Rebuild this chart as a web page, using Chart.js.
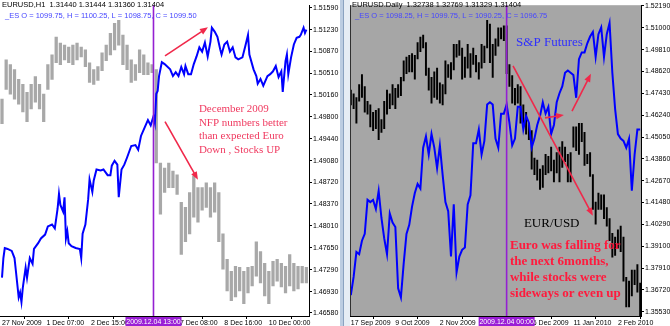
<!DOCTYPE html>
<html>
<head>
<meta charset="utf-8">
<script src="https://cdn.jsdelivr.net/npm/chart.js@4.4.1/dist/chart.umd.min.js"></script>
<style>
  html, body { margin: 0; padding: 0; background: #fff; }
  #wrap { position: relative; width: 670px; height: 326px; overflow: hidden; }
  #left { position: absolute; left: 0; top: 0; }
  #right { position: absolute; left: 350px; top: 0; }
  #sep { position: absolute; left: 340px; top: 0; width: 10px; height: 326px;
         background: linear-gradient(to right, #bccde2 0, #bccde2 3px, #8aa2c0 3px, #8aa2c0 4px, #e6edf5 4px); }
</style>
</head>
<body>
<div id="wrap">
  <canvas id="left" width="340" height="326"></canvas>
  <div id="sep"></div>
  <canvas id="right" width="320" height="326"></canvas>
</div>
<script>
// ---- left: EURUSD H1 (every 3rd bar) + ES overlay ----
const h1Bar = [0,3,6,9,12,15,18,21,24,27,30,33,36,39,42,45,48,51,54,57,60,63,66,69,72,75,78,81,84,87,
  90,93,96,99,102,105,108,111,114,117,120,123,126,129,132,135,138,141,144,147,150,153,156,159,162,165,
  168,171,174,177,180,183,186,189,192,195,198,201,204,207,210,213,216,219]
const h1High = [1.50089,1.50734,1.50654,1.50573,1.50412,1.50331,1.50202,1.50331,1.50460,1.50331,
  1.50170,1.50654,1.50815,1.51106,1.51009,1.50976,1.50944,1.50976,1.51009,1.50944,
  1.50896,1.50686,1.50573,1.50621,1.50847,1.50976,1.51170,1.51331,1.51380,1.51138,
  1.50976,1.50734,1.50654,1.50896,1.50815,1.50686,1.50654,1.50573,1.49040,1.48959,
  1.49040,1.48907,1.48846,1.48394,1.48313,1.48556,1.48830,1.48636,1.48636,1.48717,
  1.48636,1.48717,1.48556,1.47878,1.47458,1.47264,1.47345,1.47329,1.47264,1.47329,
  1.47345,1.47749,1.47587,1.47393,1.47264,1.47426,1.47458,1.47393,1.47345,1.47539,
  1.47393,1.47345,1.47345,1.47329]
const h1Low = [1.49685,1.50250,1.50170,1.50089,1.50008,1.49879,1.49717,1.49927,1.50040,1.49927,
  1.49717,1.50250,1.50412,1.50686,1.50654,1.50734,1.50686,1.50654,1.50734,1.50783,
  1.50621,1.50363,1.50331,1.50395,1.50557,1.50718,1.50815,1.50896,1.50976,1.50654,
  1.50573,1.50363,1.50395,1.50524,1.50492,1.50492,1.50524,1.49040,1.48200,1.48556,
  1.48636,1.48636,1.48523,1.47539,1.47749,1.47878,1.48152,1.48071,1.48265,1.48313,
  1.48152,1.48233,1.47749,1.47297,1.46942,1.46780,1.46845,1.46942,1.46732,1.46909,
  1.47023,1.47184,1.47071,1.46861,1.46732,1.47023,1.47103,1.47006,1.46909,1.47023,
  1.46942,1.46974,1.47071,1.47071]

const esH1Idx = [0,1,2,4,7,9,10,12,13,14,15,17,18,20,22,23,26,28,31,33,36,38,40,41,42,44,45,46,47,48,
  50,53,56,57,58,60,62,63,65,66,68,71,73,76,78,79,81,83,84,86,88,90,93,96,98,100,103,105,107,109,
  110,111,112,113,115,117,121,123,125,127,129,131,132,134,136,138,140,142,144,146,148,150,151,153,155,157,158,160,162,164,
  166,168,170,173,175,177,178,181,183,184,186,188,191,193,195,197,199,201,202,204,205,206,208,210,212,214,215,217,218,219]
const esH1 = [1047.6,1051.7,1053.8,1053.6,1053.2,1051.7,1049.0,1043.5,1044.5,1042.5,
  1045.6,1049.7,1047.6,1051.7,1050.5,1053.6,1054.8,1055.8,1056.6,1058.3,
  1058.7,1057.9,1062.0,1065.1,1062.8,1061.4,1064.4,1055.8,1057.3,1054.8,
  1054.2,1053.8,1053.6,1051.7,1056.8,1058.7,1064.0,1068.1,1065.5,1067.9,
  1070.2,1070.0,1070.2,1069.0,1069.0,1071.0,1072.0,1071.2,1064.4,1070.2,
  1071.2,1072.7,1075.1,1075.3,1074.3,1077.2,1079.2,1080.5,1079.4,1081.3,
  1079.9,1086.0,1086.6,1089.7,1092.6,1092.2,1091.1,1089.7,1090.5,1089.7,
  1091.6,1090.1,1091.8,1090.1,1090.1,1092.2,1093.8,1095.7,1094.8,1096.7,
  1093.8,1096.9,1099.8,1099.0,1097.9,1095.3,1094.2,1096.3,1096.9,1094.8,
  1095.7,1093.6,1093.2,1093.6,1095.9,1098.3,1094.2,1091.1,1089.7,1088.1,
  1089.1,1087.7,1089.7,1090.1,1090.7,1091.8,1089.5,1090.7,1086.4,1092.8,
  1094.2,1090.1,1093.6,1096.3,1097.7,1097.9,1098.3,1099.8,1098.7,1099.4]

const h1PriceTicks = [1.51590,1.51230,1.50870,1.50510,1.50160,1.49800,1.49440,1.49080,1.48720,1.48370,1.48010,1.47650,1.47290,1.46930,1.46580]
const h1TimeIdx = [0,32,64,96,128,160,192]
const h1TimeLabels = ['27 Nov 2009','1 Dec 07:00','2 Dec 15:00','3 Dec 23:00','7 Dec 08:00','8 Dec 16:00','10 Dec 00:00']

// ---- right: EURUSD Daily + ES overlay ----
const d1Low = [1.4680,1.4660,1.4580,1.4700,1.4720,1.4640,1.4630,1.4560,1.4540,1.4550,
  1.4490,1.4530,1.4550,1.4630,1.4660,1.4680,1.4660,1.4720,1.4730,1.4810,
  1.4850,1.4860,1.4860,1.4820,1.4930,1.4970,1.4990,1.4840,1.4760,1.4690,
  1.4720,1.4710,1.4690,1.4680,1.4740,1.4830,1.4820,1.4870,1.4940,1.4950,
  1.4820,1.4830,1.4880,1.4830,1.4900,1.4860,1.4820,1.4880,1.4910,1.4990,
  1.4910,1.4830,1.4950,1.5000,1.5040,1.5030,1.4850,1.4780,1.4690,1.4680,
  1.4690,1.4580,1.4570,1.4520,1.4490,1.4330,1.4300,1.4270,1.4220,1.4230,
  1.4300,1.4310,1.4320,1.4260,1.4310,1.4260,1.4340,1.4370,1.4260,1.4260,
  1.4450,1.4430,1.4410,1.4480,1.4350,1.4360,1.4290,1.4110,1.4030,1.4110,
  1.4110,1.4060,1.4020,1.3940,1.3850,1.3860,1.3900,1.3880,1.3720,1.3580,
  1.3580,1.3640,1.3700,1.3660,1.3530]
const d1High = [1.4760,1.4740,1.4720,1.4790,1.4845,1.4780,1.4700,1.4680,1.4640,1.4650,
  1.4660,1.4600,1.4700,1.4760,1.4740,1.4790,1.4770,1.4790,1.4830,1.4920,
  1.4940,1.4950,1.4960,1.4950,1.5020,1.5050,1.5060,1.5020,1.4880,1.4830,
  1.4860,1.4880,1.4800,1.4790,1.4920,1.4900,1.4910,1.5010,1.5010,1.5030,
  1.4990,1.4940,1.5010,1.4960,1.4990,1.4950,1.4910,1.5010,1.5000,1.5140,
  1.5120,1.5010,1.5040,1.5100,1.5100,1.5110,1.5110,1.4900,1.4840,1.4770,
  1.4790,1.4780,1.4680,1.4640,1.4580,1.4540,1.4390,1.4380,1.4330,1.4350,
  1.4410,1.4400,1.4450,1.4380,1.4420,1.4450,1.4480,1.4450,1.4410,1.4420,
  1.4560,1.4560,1.4580,1.4580,1.4530,1.4410,1.4420,1.4300,1.4150,1.4200,
  1.4190,1.4190,1.4120,1.4060,1.3980,1.3960,1.4000,1.4020,1.3960,1.3740,
  1.3720,1.3780,1.3780,1.3810,1.3710]
const esD1 = [1024,1032,1043,1042,1048,1051,1066,1065,1066,1062,
  1070,1058,1049,1042,1060,1056,1054,1027,1023,1038,
  1051,1055,1063,1069,1073,1071,1089,1094,1086,1095,
  1089,1080,1090,1077,1065,1061,1041,1064,1034,1041,
  1044,1045,1064,1068,1091,1091,1097,1086,1092,1108,
  1109,1108,1093,1089,1104,1104,1108,1100,1090,1093,
  1107,1107,1097,1103,1100,1089,1093,1099,1103,1109,
  1104,1107,1095,1099,1109,1113,1116,1122,1123,1122,
  1121,1111,1128,1131,1131,1135,1138,1140,1129,1139,
  1142,1129,1139,1144,1122,1106,1095,1093,1092,1089,
  1093,1070,1086,1097,1097]

const d1PriceTicks = [1.52190,1.51000,1.49810,1.48620,1.47430,1.46240,1.45050,1.43860,1.42670,1.41480,1.40290,1.39100,1.37910,1.36720,1.35530]
const d1TimeIdx = [0,16,32,48,64,80,96]
const d1TimeLabels = ['17 Sep 2009','9 Oct 2009','2 Nov 2009','24 Nov 2009','16 Dec 2009','11 Jan 2010','2 Feb 2010']


Chart.defaults.font.family = '"Liberation Sans", Arial, sans-serif'
Chart.defaults.font.size = 7
Chart.defaults.color = '#000'

const decor = {
  id: 'decor',
  beforeDraw(chart, args, o) {
    const { ctx, chartArea: a } = chart
    if (o.plotBg) {
      ctx.save()
      ctx.fillStyle = o.plotBg
      ctx.fillRect(a.left, a.top, a.right - a.left, a.bottom - a.top)
      ctx.restore()
    }
  },
  afterDatasetsDraw(chart, args, o) {
    const { ctx, chartArea: a, scales } = chart
    const px = v => scales.x.getPixelForValue(v)
    const py = v => scales.y.getPixelForValue(v)
    ctx.save()
    if (o.leftBorder) {
      ctx.strokeStyle = '#303030'; ctx.lineWidth = 1
      ctx.beginPath(); ctx.moveTo(a.left + 0.5, a.top); ctx.lineTo(a.left + 0.5, a.bottom); ctx.stroke()
    }
    const mx = px(o.markIdx)
    ctx.strokeStyle = '#9420d2'; ctx.lineWidth = 1.6
    ctx.beginPath(); ctx.moveTo(mx, a.top); ctx.lineTo(mx, a.bottom); ctx.stroke()

    ctx.strokeStyle = '#f0284a'; ctx.fillStyle = '#f0284a'; ctx.lineWidth = 1.6
    o.arrows.forEach(ar => {
      const x1 = px(ar.from[0]), y1 = py(ar.from[1]), x2 = px(ar.to[0]), y2 = py(ar.to[1])
      const ang = Math.atan2(y2 - y1, x2 - x1)
      ctx.beginPath(); ctx.moveTo(x1, y1); ctx.lineTo(x2 - 5 * Math.cos(ang), y2 - 5 * Math.sin(ang)); ctx.stroke()
      ctx.beginPath()
      ctx.moveTo(x2, y2)
      ctx.lineTo(x2 - 8 * Math.cos(ang) + 3.2 * Math.sin(ang), y2 - 8 * Math.sin(ang) - 3.2 * Math.cos(ang))
      ctx.lineTo(x2 - 8 * Math.cos(ang) - 3.2 * Math.sin(ang), y2 - 8 * Math.sin(ang) + 3.2 * Math.cos(ang))
      ctx.closePath(); ctx.fill()
    })

    ctx.textBaseline = 'middle'; ctx.textAlign = 'left'
    o.notes.forEach(n => {
      ctx.font = n.font; ctx.fillStyle = n.color
      const x = px(n.at[0]), y = py(n.at[1])
      n.lines.forEach((t, i) => ctx.fillText(t, x, y + i * n.gap))
    })
    ctx.restore()
  },
  afterDraw(chart, args, o) {
    const { ctx, chartArea: a, scales } = chart
    ctx.save()
    ctx.textBaseline = 'middle'; ctx.textAlign = 'left'
    ctx.font = '7.5px "Liberation Sans"'
    ctx.fillStyle = '#000'
    ctx.fillText(o.title, 2, 5)
    ctx.fillStyle = '#4646ff'
    ctx.fillText(o.esTitle, 5, 16)

    const mx = scales.x.getPixelForValue(o.markIdx)
    ctx.fillStyle = '#9a1ed6'
    ctx.fillRect(mx - 28, a.bottom + 1, 56, 10)
    ctx.fillStyle = '#fff'
    ctx.textAlign = 'center'
    ctx.font = '7px "Liberation Sans"'
    ctx.fillText(o.markLabel, mx, a.bottom + 6.5)
    ctx.restore()
  }
}

const buildConfig = (p) => ({
  type: 'bar',
  data: {
    datasets: [
      {
        type: 'line',
        data: p.esIdx.map((v, i) => ({ x: v, y: p.es[i] })),
        borderColor: '#0000ff',
        borderWidth: 2,
        pointRadius: 0,
        tension: 0,
        yAxisID: 'es',
        order: 1
      },
      {
        type: 'bar',
        data: p.barIdx.map((v, i) => ({ x: v, y: [p.low[i], p.high[i]] })),
        backgroundColor: p.barColor,
        barThickness: p.barWidth,
        grouped: false,
        yAxisID: 'y',
        order: 2
      }
    ]
  },
  options: {
    responsive: false,
    animation: false,
    layout: { padding: 0 },
    plugins: {
      legend: { display: false },
      tooltip: { enabled: false },
      decor: p.decor
    },
    scales: {
      x: {
        type: 'linear',
        min: p.xMin,
        max: p.xMax,
        offset: false,
        grid: { drawOnChartArea: false, tickLength: 3, color: '#000' },
        border: { color: '#000' },
        ticks: {
          align: 'start',
          padding: 0,
          maxRotation: 0,
          autoSkip: false,
          callback: (v) => p.timeLabels[p.timeIdx.indexOf(v)]
        },
        afterBuildTicks: (s) => { s.ticks = p.timeIdx.map(v => ({ value: v })) },
        afterFit: (s) => { s.height = 10 }
      },
      y: {
        position: 'right',
        min: p.yMin,
        max: p.yMax,
        grid: { drawOnChartArea: false, tickLength: 3, color: '#000' },
        border: { color: '#000' },
        ticks: { padding: 1, autoSkip: false, callback: (v) => v.toFixed(5) },
        afterBuildTicks: (s) => { s.ticks = p.priceTicks.map(v => ({ value: v })) },
        afterFit: (s) => { s.width = p.axisWidth }
      },
      es: { display: false, min: p.esMin, max: p.esMax }
    }
  },
  plugins: [decor]
})

new Chart(document.getElementById('left'), buildConfig({
  barIdx: h1Bar, high: h1High, low: h1Low, barColor: '#a8a8a8', barWidth: 2.6,
  esIdx: esH1Idx, es: esH1,
  xMin: -1.44, xMax: 220.9, yMin: 1.4653, yMax: 1.5163, esMin: 1039.6, esMax: 1104.5,
  priceTicks: h1PriceTicks, timeIdx: h1TimeIdx, timeLabels: h1TimeLabels, axisWidth: 31,
  decor: {
    title: 'EURUSD,H1  1.31440 1.31444 1.31360 1.31404',
    esTitle: '_ES O = 1099.75, H = 1100.25, L = 1098.75, C = 1099.50',
    markIdx: 109, markLabel: '2009.12.04 13:00',
    arrows: [
      { from: [117.3, 1.50799], to: [148.2, 1.51267] },
      { from: [117.3, 1.49718], to: [141, 1.48766] }
    ],
    notes: [
      { at: [141.7, 1.49919], gap: 13.4, font: '11px "Liberation Serif"', color: '#f03a60',
        lines: ['December 2009', 'NFP numbers better', 'than expected Euro', 'Down , Stocks UP'] }
    ]
  }
}))

new Chart(document.getElementById('right'), buildConfig({
  barIdx: d1Low.map((v, i) => i), high: d1High, low: d1Low, barColor: '#000', barWidth: 1.3,
  esIdx: esD1.map((v, i) => i), es: esD1,
  xMin: -0.3, xMax: 104.3, yMin: 1.3530, yMax: 1.5223, esMin: 1014.8, esMax: 1151.8,
  priceTicks: d1PriceTicks, timeIdx: d1TimeIdx, timeLabels: d1TimeLabels, axisWidth: 29,
  decor: {
    plotBg: '#a6a6a6', leftBorder: true,
    title: 'EURUSD.Daily  1.32738 1.32769 1.31329 1.31404',
    esTitle: '_ES O = 1098.25, H = 1099.75, L = 1090.25, C = 1096.75',
    markIdx: 56, markLabel: '2009.12.04 00:00',
    arrows: [
      { from: [58.3, 1.48919], to: [87.0, 1.40755] },
      { from: [69.8, 1.46091], to: [76.6, 1.46251] },
      { from: [79.5, 1.46464], to: [86.3, 1.48492] }
    ],
    notes: [
      { at: [59.4, 1.50194], gap: 0, font: '13px "Liberation Serif"', color: '#2f2fff', lines: ['S&P Futures'] },
      { at: [62.2, 1.40333], gap: 0, font: '13px "Liberation Serif"', color: '#000', lines: ['EUR/USD'] },
      { at: [57.2, 1.39154], gap: 16, font: 'bold 13px "Liberation Serif"', color: '#ff1a3d',
        lines: ['Euro was falling for', 'the next 6months,', 'while stocks were', 'sideways or even up'] }
    ]
  }
}))
</script>
</body>
</html>
